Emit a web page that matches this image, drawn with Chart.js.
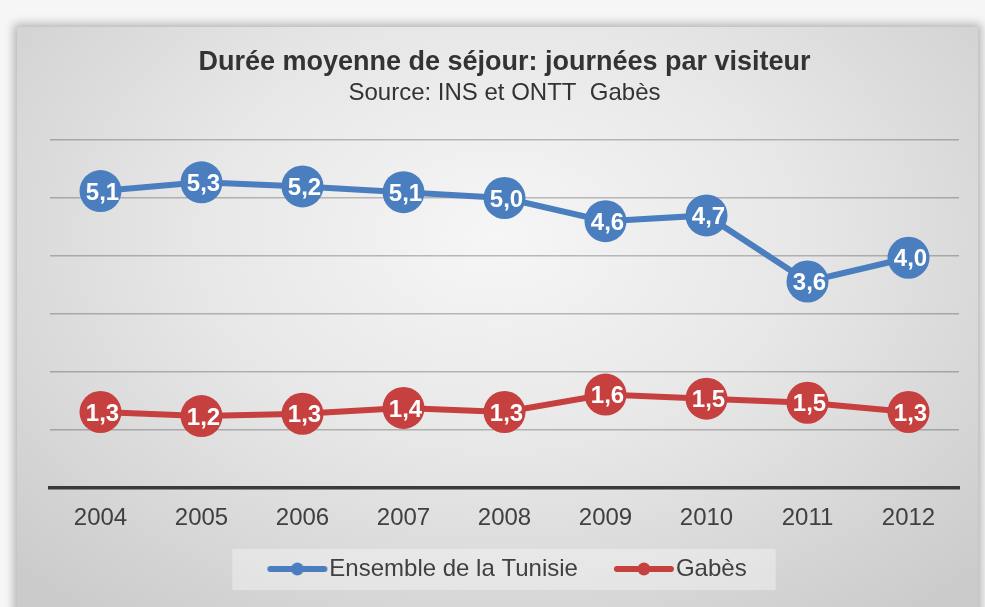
<!DOCTYPE html>
<html>
<head>
<meta charset="utf-8">
<script src="https://cdn.jsdelivr.net/npm/chart.js@4.4.1/dist/chart.umd.min.js"></script>
<style>
  html, body { margin: 0; padding: 0; background: #f6f6f6; overflow: hidden; }
  #wrap { position: relative; width: 985px; height: 607px; }
  #frame {
    position: absolute; left: 17px; top: 27px; width: 961px; height: 600px;
    background: radial-gradient(ellipse 70% 80% at 50% 35%, #f6f6f6 0%, #e7e7e7 45%, #cbcbcb 100%);
    box-shadow: 0 0 9px 3px rgba(0,0,0,0.28);
  }
  #chart { position: absolute; left: 0; top: 0; }
</style>
</head>
<body>
<div id="wrap">
  <div id="frame"></div>
  <canvas id="chart" width="985" height="607"></canvas>
</div>
<script>
// data
const years = ['2004', '2005', '2006', '2007', '2008', '2009', '2010', '2011', '2012'];
const tunisie = [5.12, 5.27, 5.2, 5.1, 5.0, 4.6, 4.7, 3.56, 3.97];
const gabes = [1.31, 1.24, 1.28, 1.38, 1.31, 1.61, 1.54, 1.47, 1.31];
const seriesNames = ['Ensemble de la Tunisie', 'Gabès'];
const yMin = 0, yMax = 6, yStep = 1;

const BLUE = '#4a7ebf';
const RED = '#c5403e';
const FONT = '"Liberation Sans", Arial, sans-serif';
const SYMBOL_W = 76; // legend box width given to the symbol

// line+dot legend symbol, drawn a bit right of the box centre
function legendSymbol(color) {
  const c = document.createElement('canvas');
  c.width = 100; c.height = 14;
  const g = c.getContext('2d');
  g.strokeStyle = color;
  g.lineWidth = 6;
  g.lineCap = 'round';
  g.beginPath(); g.moveTo(41, 7); g.lineTo(95, 7); g.stroke();
  g.fillStyle = color;
  g.beginPath(); g.arc(68, 7, 6.5, 0, Math.PI * 2); g.fill();
  return c;
}
const symbols = [legendSymbol(BLUE), legendSymbol(RED)];

// nudge the legend row a little left, and draw the light box behind it
const legendBox = {
  id: 'legendBox',
  afterLayout(chart) {
    if (chart.legend) {
      chart.legend.left -= 10.5;
      chart.legend.right -= 10.5;
    }
  },
  beforeDraw(chart) {
    const hb = chart.legend && chart.legend.legendHitBoxes;
    if (!hb || !hb.length) return;
    const first = hb[0], last = hb[hb.length - 1];
    const x0 = first.left + SYMBOL_W / 2 - 47;
    const x1 = last.left + last.width + 29;
    const y0 = first.top - 8, y1 = first.top + first.height + 9;
    const ctx = chart.ctx;
    ctx.save();
    ctx.fillStyle = 'rgba(255,255,255,0.35)';
    ctx.fillRect(x0, y0, x1 - x0, y1 - y0);
    ctx.restore();
  }
};

// white values inside the markers
const valueLabels = {
  id: 'valueLabels',
  afterDatasetsDraw(chart) {
    const ctx = chart.ctx;
    ctx.save();
    ctx.font = 'bold 24px ' + FONT;
    ctx.fillStyle = '#ffffff';
    ctx.textAlign = 'center';
    ctx.textBaseline = 'middle';
    chart.data.datasets.forEach((ds, i) => {
      chart.getDatasetMeta(i).data.forEach((pt, j) => {
        const txt = ds.data[j].toFixed(1).replace('.', ',');
        ctx.fillText(txt, pt.x + 2, pt.y + 2);
      });
    });
    ctx.restore();
  }
};

new Chart(document.getElementById('chart'), {
  type: 'line',
  data: {
    labels: years,
    datasets: [
      {
        label: seriesNames[0],
        data: tunisie,
        borderColor: BLUE,
        backgroundColor: BLUE,
        borderWidth: 6,
        pointRadius: 21,
        pointHoverRadius: 21,
        pointBorderWidth: 0,
        pointBackgroundColor: BLUE,
        tension: 0
      },
      {
        label: seriesNames[1],
        data: gabes,
        borderColor: RED,
        backgroundColor: RED,
        borderWidth: 6,
        pointRadius: 21,
        pointHoverRadius: 21,
        pointBorderWidth: 0,
        pointBackgroundColor: RED,
        tension: 0
      }
    ]
  },
  options: {
    responsive: false,
    animation: false,
    layout: { padding: { left: 50, right: 26, top: 0, bottom: 16 } },
    scales: {
      x: {
        type: 'category',
        offset: true,
        grid: { display: false, drawTicks: false },
        border: { display: true, color: '#3a3a3a', width: 3.5 },
        ticks: { color: '#404040', font: { family: FONT, size: 24 }, padding: 15.6 },
        afterFit: (scale) => { scale.height = 59; }
      },
      y: {
        min: yMin,
        max: yMax,
        ticks: { display: false, stepSize: yStep },
        border: { display: false },
        grid: {
          drawTicks: false,
          lineWidth: 1.5,
          color: (ctx) => ctx.tick && ctx.tick.value === 0 ? 'rgba(0,0,0,0)' : 'rgba(0,0,0,0.24)'
        }
      }
    },
    plugins: {
      title: {
        display: true,
        text: 'Durée moyenne de séjour: journées par visiteur',
        color: '#333333',
        font: { family: FONT, size: 27, weight: 'bold' },
        padding: { top: 46.3, bottom: 0 }
      },
      subtitle: {
        display: true,
        text: 'Source: INS et ONTT  Gabès',
        color: '#333333',
        font: { family: FONT, size: 24 },
        padding: { top: 0, bottom: 32.5 }
      },
      legend: {
        position: 'bottom',
        labels: {
          color: '#404040',
          font: { family: FONT, size: 24 },
          usePointStyle: true,
          pointStyleWidth: SYMBOL_W,
          padding: 10,
          generateLabels: (chart) => {
            const items = Chart.defaults.plugins.legend.labels.generateLabels(chart);
            items.forEach((it, i) => { it.pointStyle = symbols[i]; });
            return items;
          }
        }
      },
      tooltip: { enabled: false }
    }
  },
  plugins: [legendBox, valueLabels]
});
</script>
</body>
</html>
